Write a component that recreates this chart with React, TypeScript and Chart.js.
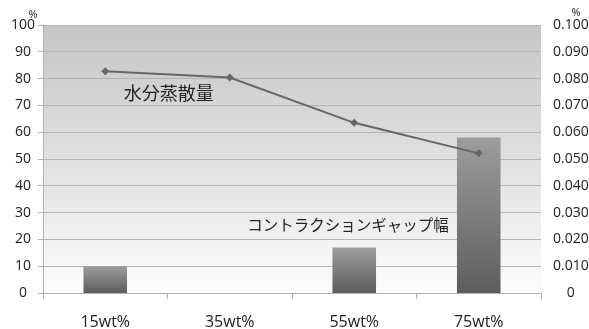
import React, { useEffect, useRef } from "react";
import { Chart, registerables } from "chart.js";

Chart.register(...registerables);

// Mix concentrations on the category axis
const categories = ["15wt%", "35wt%", "55wt%", "75wt%"];
// Water evaporation (%), left axis
const evaporation = [82.7, 80.4, 63.5, 52.1];
// Contraction gap width, right axis
const gapWidth = [0.01, 0, 0.017, 0.058];

const leftMax = 100;
const leftStep = 10;
const rightMax = 0.1;
const rightStep = 0.01;

const lineLabel = "水分蒸散量";
const barLabel = "コントラクションギャップ幅";
const unitLabel = "%";

const tickFont = { family: "'Open Sans', 'Noto Sans', sans-serif", size: 14 };
const catFont = { family: "'Open Sans', 'Noto Sans', sans-serif", size: 16 };
const jpFont = "'Noto Sans CJK JP', sans-serif";
const textColor = "#222";

const plotBackground = {
  id: "plotBackground",
  beforeDraw(chart: any) {
    const { ctx, chartArea } = chart;
    if (!chartArea) return;
    const g = ctx.createLinearGradient(0, chartArea.top, 0, chartArea.bottom);
    g.addColorStop(0, "#c6c6c6");
    g.addColorStop(0.5, "#e0e0e0");
    g.addColorStop(1, "#fdfdfd");
    ctx.save();
    ctx.fillStyle = g;
    ctx.fillRect(chartArea.left, chartArea.top, chartArea.right - chartArea.left, chartArea.bottom - chartArea.top);
    ctx.restore();
  },
};

const seriesNotes = {
  id: "seriesNotes",
  afterDraw(chart: any) {
    const { ctx, chartArea, scales } = chart;
    const x = scales.x;
    const y = scales.y;
    ctx.save();
    ctx.fillStyle = textColor;
    ctx.textAlign = "center";
    ctx.textBaseline = "middle";
    ctx.font = `18px ${jpFont}`;
    ctx.fillText(lineLabel, x.getPixelForValue(0.51), y.getPixelForValue(74.5));
    ctx.font = `15.5px ${jpFont}`;
    ctx.fillText(barLabel, x.getPixelForValue(1.95), y.getPixelForValue(25.3));
    ctx.font = "11px 'Open Sans', sans-serif";
    ctx.fillText(unitLabel, chartArea.left - 10, chartArea.top - 10);
    ctx.fillText(unitLabel, chartArea.right + 35, chartArea.top - 12);
    ctx.restore();
  },
};

function barGradient(c: any) {
  const chart = c.chart;
  if (!chart.chartArea || c.type !== "data") return "#777";
  const s = chart.scales.y1;
  const top = s.getPixelForValue(c.raw);
  const bottom = s.getPixelForValue(0);
  const g = chart.ctx.createLinearGradient(0, top, 0, bottom);
  g.addColorStop(0, "#9d9d9d");
  g.addColorStop(1, "#5d5d5f");
  return g;
}

export default function App() {
  const canvasRef = useRef<HTMLCanvasElement | null>(null);

  useEffect(() => {
    if (!canvasRef.current) return;
    const chart = new Chart(canvasRef.current, {
      data: {
        labels: categories,
        datasets: [
          {
            type: "line",
            label: lineLabel,
            data: evaporation,
            yAxisID: "y",
            borderColor: "#666",
            backgroundColor: "#666",
            borderWidth: 2,
            pointStyle: "rectRot",
            pointRadius: 4,
            pointBorderWidth: 0,
            order: 0,
          },
          {
            type: "bar",
            label: barLabel,
            data: gapWidth,
            yAxisID: "y1",
            backgroundColor: barGradient,
            borderWidth: 0,
            barPercentage: 0.35,
            categoryPercentage: 1,
            order: 1,
          },
        ],
      } as any,
      options: {
        responsive: false,
        animation: false,
        devicePixelRatio: 1,
        layout: { padding: { top: 25, left: 0, right: 0, bottom: 0 } },
        plugins: {
          legend: { display: false },
          tooltip: { enabled: false },
        },
        scales: {
          x: {
            offset: true,
            grid: {
              offset: true,
              drawOnChartArea: false,
              drawTicks: true,
              tickLength: 6,
              color: "#b0b0b0",
            },
            border: { display: true, color: "#b0b0b0" },
            ticks: { color: textColor, font: catFont, padding: 14 },
            afterFit(axis: any) {
              axis.height = 36;
            },
          },
          y: {
            position: "left",
            min: 0,
            max: leftMax,
            ticks: {
              stepSize: leftStep,
              color: textColor,
              font: tickFont,
              crossAlign: "center",
              padding: 3,
            },
            grid: { color: "#b4b4b4", tickLength: 5 },
            border: { display: true, color: "#b0b0b0" },
            afterFit(axis: any) {
              axis.width = 43;
            },
          },
          y1: {
            position: "right",
            min: 0,
            max: rightMax,
            ticks: {
              stepSize: rightStep,
              color: textColor,
              font: tickFont,
              crossAlign: "center",
              padding: 4,
              callback: (v: any) => (Number(v) === 0 ? "0" : Number(v).toFixed(3)),
            },
            grid: { display: false },
            border: { display: false },
            afterFit(axis: any) {
              axis.width = 48;
            },
          },
        },
      } as any,
      plugins: [plotBackground, seriesNotes],
    });
    return () => chart.destroy();
  }, []);

  return (
    <div style={{ position: "fixed", left: 0, top: 0, width: 589, height: 329, background: "#fff" }}>
      <canvas ref={canvasRef} width={589} height={329} style={{ display: "block" }} />
    </div>
  );
}
